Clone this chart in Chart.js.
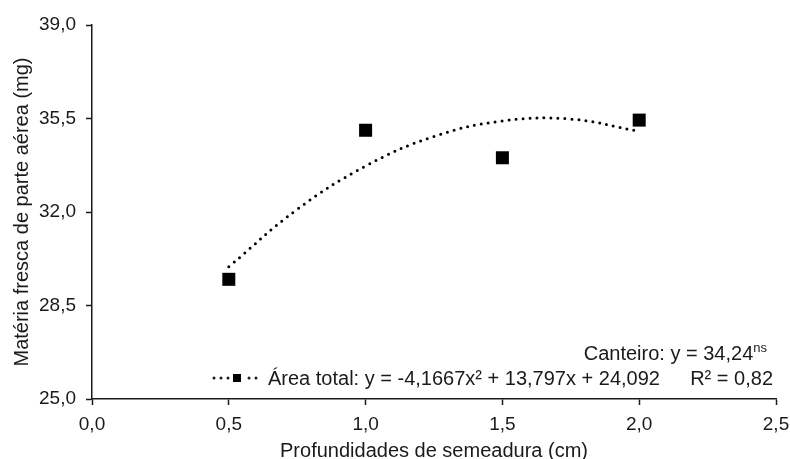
<!DOCTYPE html>
<html>
<head>
<meta charset="utf-8">
<script src="https://cdn.jsdelivr.net/npm/chart.js@4"></script>
<style>
  html, body { margin: 0; padding: 0; background: #fff; }
  #wrap { width: 790px; height: 459px; position: relative; }
</style>
</head>
<body>
<div id="wrap"><canvas id="chart" width="790" height="459"></canvas></div>
<script>
// -- Data -----------------------------------------------------------
const depths = [0.5, 1.0, 1.5, 2.0];               // cm
const freshMass = [29.48, 35.06, 34.03, 35.44];    // mg

// fitted curve (Área total)
const trendDepths = [0.5, 0.75, 1.0, 1.25, 1.5, 1.75, 2.0];
const trendMass = [29.95, 32.1, 33.72, 34.83, 35.41, 35.48, 35.02];

const xTicks = [0, 0.5, 1.0, 1.5, 2.0, 2.5];
const yTicks = [25, 28.5, 32, 35.5, 39];

const legendCanteiro = "Canteiro: y = 34,24";
const legendArea = "Área total: y = -4,1667x² + 13,797x + 24,092";
const legendR2 = "R² = 0,82";
const xTitle = "Profundidades de semeadura (cm)";
const yTitle = "Matéria fresca de parte aérea (mg)";

// -- Helpers ---------------------------------------------------------
const FONT = "'Liberation Sans', Arial, sans-serif";
const INK = "#1a1a1a";
const fmt = (v) => v.toFixed(1).replace(".", ",");

const textPlugin = {
  id: "textPlugin",
  afterDraw(chart) {
    const ctx = chart.ctx;
    ctx.save();
    ctx.fillStyle = INK;

    // legend line 1, right aligned with superscript "ns"
    ctx.font = `13px ${FONT}`;
    const nsW = ctx.measureText("ns").width;
    ctx.textAlign = "left";
    ctx.textBaseline = "alphabetic";
    ctx.fillText("ns", 767 - nsW, 352);
    ctx.font = `20px ${FONT}`;
    ctx.textAlign = "right";
    ctx.fillText(legendCanteiro, 767 - nsW, 360);

    // legend line 2: marker + equation + R²
    ctx.textAlign = "left";
    ctx.fillText(legendArea, 268, 385);
    ctx.textAlign = "right";
    ctx.fillText(legendR2, 773, 385);

    ctx.strokeStyle = INK;
    ctx.lineWidth = 3;
    ctx.lineCap = "round";
    ctx.setLineDash([0, 7]);
    ctx.beginPath();
    ctx.moveTo(214, 378);
    ctx.lineTo(260, 378);
    ctx.stroke();
    ctx.setLineDash([]);
    ctx.fillStyle = "#fff";
    ctx.fillRect(230, 371, 14, 14);
    ctx.fillStyle = "#000";
    ctx.fillRect(233, 374, 8, 8);

    // axis titles
    ctx.fillStyle = INK;
    ctx.textAlign = "center";
    ctx.fillText(xTitle, (chart.chartArea.left + chart.chartArea.right) / 2, 457);
    ctx.translate(22, (chart.chartArea.top + chart.chartArea.bottom) / 2);
    ctx.rotate(-Math.PI / 2);
    ctx.textBaseline = "middle";
    ctx.fillText(yTitle, 0, 0);
    ctx.restore();
  },
};

// -- Chart -----------------------------------------------------------
new Chart(document.getElementById("chart"), {
  type: "scatter",
  data: {
    datasets: [
      {
        label: "Área total (ajuste)",
        type: "line",
        data: trendDepths.map((x, i) => ({ x, y: trendMass[i] })),
        borderColor: "#000",
        borderWidth: 3,
        borderDash: [0, 7],
        borderCapStyle: "round",
        tension: 0.4,
        pointRadius: 0,
        fill: false,
      },
      {
        label: "Área total",
        data: depths.map((x, i) => ({ x, y: freshMass[i] })),
        pointStyle: "rect",
        pointRadius: 9.2,
        pointHoverRadius: 9.2,
        backgroundColor: "#000",
        borderColor: "#000",
        borderWidth: 0,
      },
    ],
  },
  options: {
    animation: false,
    responsive: false,
    layout: { padding: { top: 25, right: 14, bottom: 0, left: 0 } },
    plugins: {
      legend: { display: false },
      tooltip: { enabled: false },
    },
    scales: {
      x: {
        type: "linear",
        min: 0,
        max: 2.5,
        afterBuildTicks: (s) => { s.ticks = xTicks.map((v) => ({ value: v })); },
        afterFit: (s) => {
          s.height = 60;
          s.paddingLeft = 0;
          s.paddingRight = 0;
        },
        grid: { drawOnChartArea: false, tickLength: 6, tickColor: INK, tickWidth: 1.5 },
        border: { color: INK, width: 1.5 },
        ticks: {
          color: INK,
          font: { family: FONT, size: 19 },
          padding: 8,
          callback: (v) => fmt(v),
        },
      },
      y: {
        type: "linear",
        min: 25,
        max: 39,
        afterBuildTicks: (s) => { s.ticks = yTicks.map((v) => ({ value: v })); },
        afterFit: (s) => {
          s.width = 92;
          s.paddingTop = 0;
          s.paddingBottom = 0;
        },
        grid: { drawOnChartArea: false, tickLength: 6, tickColor: INK, tickWidth: 1.5 },
        border: { color: INK, width: 1.5 },
        ticks: {
          color: INK,
          font: { family: FONT, size: 19 },
          padding: 10,
          callback: (v) => fmt(v),
        },
      },
    },
  },
  plugins: [textPlugin],
});
</script>
</body>
</html>
